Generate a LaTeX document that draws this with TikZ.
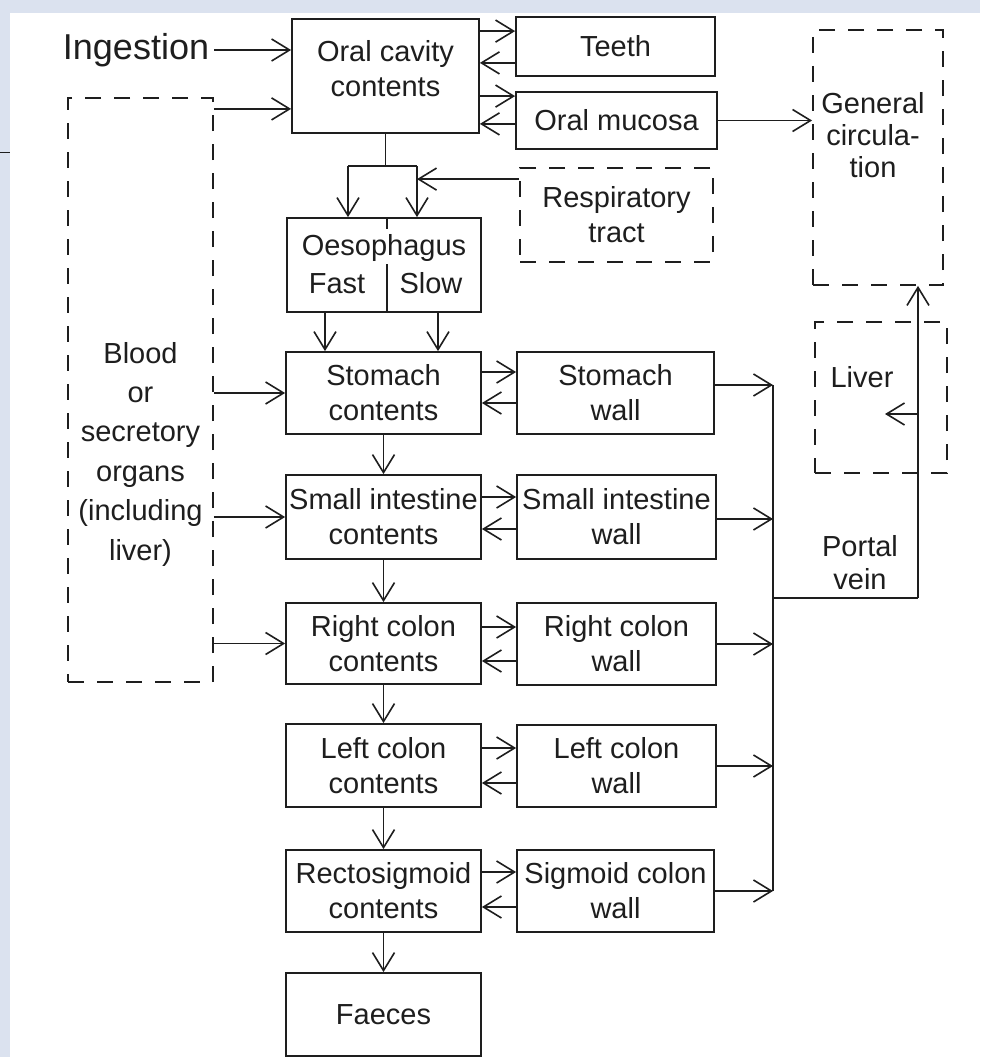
\documentclass[tikz,border=0pt]{standalone}
\usepackage{fontspec}
\setmainfont{Liberation Sans}
\usetikzlibrary{arrows.meta}
\definecolor{bgblue}{RGB}{219,226,239}
\definecolor{ink}{RGB}{30,30,30}
\begin{document}
\begin{tikzpicture}[x=1pt,y=-1pt,
  mainfont/.style={font=\fontsize{29}{35}\selectfont},
  box/.style={draw=ink, line width=1.8pt, inner sep=0pt, align=center, text=ink, mainfont},
  dbox/.style={draw=ink, line width=1.8pt, dash pattern=on 16pt off 13pt, inner sep=0pt},
  txt/.style={inner sep=0pt, align=center, text=ink, mainfont},
  ln/.style={draw=ink, line width=1.6pt},
  arr/.style={draw=ink, line width=1.6pt, -{Straight Barb[length=18pt,width=22pt,line width=1.6pt]}}
]
\useasboundingbox (0,0) rectangle (980,1057);
\fill[bgblue] (0,0) rectangle (980,1057);
\fill[white] (10,13) rectangle (980,1057);
\draw[ink, line width=1pt] (0,152) -- (10,152);

% ---------- nodes ----------
\node[txt, font=\fontsize{36}{40}\selectfont] (ing) at (136,50) {Ingestion};
\node[box, minimum width=187pt, minimum height=114pt] (oral) at (385.5,76) {};
\node[txt] (oraltxt) at (385.5,69) {Oral cavity\\contents};
\node[box, minimum width=199pt, minimum height=59pt] (teeth) at (615.5,46.5) {Teeth};
\node[box, minimum width=201pt, minimum height=57pt] (muc) at (616.5,120.5) {Oral mucosa};

\node[dbox, minimum width=130pt, minimum height=255pt] (gen) at (878,157.5) {};
\node[txt, font=\fontsize{29}{32}\selectfont] (gentxt) at (873,135.5) {General\\circula-\\tion};

\node[dbox, minimum width=193pt, minimum height=94pt] (resp) at (616.5,215) {};
\node[txt] (resptxt) at (616.5,215) {Respiratory\\tract};

\node[box, minimum width=194pt, minimum height=94pt] (oes) at (384,265) {};
\node[txt, anchor=base] (oestxt) at (384,255) {Oesophagus};
\node[txt, anchor=base] (fast) at (337,293) {Fast};
\node[txt, anchor=base] (slow) at (431,293) {Slow};
\coordinate (divx) at (387,0);
\draw[ln] (oes.north -| divx) -- ++(0,12);
\draw[ln] (oes.south -| divx) -- ++(0,-49);

\node[dbox, minimum width=145pt, minimum height=584pt] (blood) at (140.5,390) {};
\node[txt, font=\fontsize{29}{39.4}\selectfont] (bloodtxt) at (140.5,454) {Blood\\or\\secretory\\organs\\(including\\liver)};

\node[dbox, minimum width=132pt, minimum height=151pt] (liver) at (881,397.5) {};
\node[txt, anchor=base] (livertxt) at (862,387) {Liver};
\node[txt, font=\fontsize{29}{33}\selectfont] (portal) at (860,563) {Portal\\vein};

\node[box, minimum width=195pt, minimum height=82pt] (stc) at (383.5,393) {Stomach\\contents};
\node[box, minimum width=195pt, minimum height=84pt] (sic) at (383.5,517) {Small intestine\\contents};
\node[box, minimum width=195pt, minimum height=81pt] (rcc) at (383.5,643.5) {Right colon\\contents};
\node[box, minimum width=195pt, minimum height=83pt] (lcc) at (383.5,765.5) {Left colon\\contents};
\node[box, minimum width=195pt, minimum height=82pt] (rsc) at (383.5,891) {Rectosigmoid\\contents};
\node[box, minimum width=195pt, minimum height=83pt] (fae) at (383.5,1014.5) {Faeces};

\node[box, minimum width=197pt, minimum height=82pt] (stw) at (615.5,393) {Stomach\\wall};
\node[box, minimum width=199pt, minimum height=84pt] (siw) at (616.5,517) {Small intestine\\wall};
\node[box, minimum width=199pt, minimum height=82pt] (rcw) at (616.5,644) {Right colon\\wall};
\node[box, minimum width=199pt, minimum height=82pt] (lcw) at (616.5,766) {Left colon\\wall};
\node[box, minimum width=197pt, minimum height=82pt] (sgw) at (615.5,891) {Sigmoid colon\\wall};

% ---------- connectors ----------
\draw[arr] ([xshift=5pt]ing.east) -- (ing.east -| oral.west);
\coordinate (o1) at ([yshift=25pt]oral.south west);
\draw[arr] (blood.east |- o1) -- (o1);

\coordinate (t1) at ([yshift=-15pt]teeth.north west);
\coordinate (t2) at ([yshift=14pt]teeth.south west);
\draw[arr] (t1 -| oral.east) -- (t1);
\draw[arr] (t2) -- (t2 -| oral.east);
\coordinate (m1) at ([yshift=-5pt]muc.north west);
\coordinate (m2) at ([yshift=26pt]muc.south west);
\draw[arr] (m1 -| oral.east) -- (m1);
\draw[arr] (m2) -- (m2 -| oral.east);
\draw[arr] (muc.east) -- (muc.east -| gen.west);

\coordinate (spL) at (348,166);
\coordinate (spR) at (417,166);
\draw[ln] (oral.south) -- (oral.south |- spL);
\draw[ln] (spL) -- (spR);
\draw[arr] (spL) -- (spL |- oes.north);
\draw[arr] (spR) -- (spR |- oes.north);
\coordinate (r1) at ([yshift=-12pt]resp.north west);
\draw[arr] (r1) -- (r1 -| spR);

\coordinate (fastx) at (325,0);
\coordinate (slowx) at (438,0);
\draw[arr] (oes.south -| fastx) -- (stc.north -| fastx);
\draw[arr] (oes.south -| slowx) -- (stc.north -| slowx);

\draw[arr] (stc.west -| blood.east) -- (stc.west);
\draw[arr] (sic.west -| blood.east) -- (sic.west);
\draw[arr] (rcc.west -| blood.east) -- (rcc.west);

\draw[arr] (stc.south) -- (sic.north);
\draw[arr] (sic.south) -- (rcc.north);
\draw[arr] (rcc.south) -- (lcc.north);
\draw[arr] (lcc.south) -- (rsc.north);
\draw[arr] (rsc.south) -- (fae.north);

% contents <-> wall
\coordinate (a1) at ([yshift=21pt]stc.east);
\coordinate (a2) at ([yshift=-10pt]stc.east);
\draw[arr] (a1) -- (a1 -| stw.west);
\draw[arr] (a2 -| stw.west) -- (a2);
\coordinate (b1) at ([yshift=20pt]sic.east);
\coordinate (b2) at ([yshift=-12pt]sic.east);
\draw[arr] (b1) -- (b1 -| siw.west);
\draw[arr] (b2 -| siw.west) -- (b2);
\coordinate (c1) at ([yshift=16.5pt]rcc.east);
\coordinate (c2) at ([yshift=-17.5pt]rcc.east);
\draw[arr] (c1) -- (c1 -| rcw.west);
\draw[arr] (c2 -| rcw.west) -- (c2);
\coordinate (d1) at ([yshift=17.5pt]lcc.east);
\coordinate (d2) at ([yshift=-17.5pt]lcc.east);
\draw[arr] (d1) -- (d1 -| lcw.west);
\draw[arr] (d2 -| lcw.west) -- (d2);
\coordinate (e1) at ([yshift=19pt]rsc.east);
\coordinate (e2) at ([yshift=-16pt]rsc.east);
\draw[arr] (e1) -- (e1 -| sgw.west);
\draw[arr] (e2 -| sgw.west) -- (e2);

% walls -> portal collector
\coordinate (pvtop) at (773,385);
\coordinate (pvbot) at (773,891);
\draw[ln] (pvtop) -- (pvbot);
\coordinate (w1) at ([yshift=8pt]stw.east);
\coordinate (w2) at ([yshift=-2pt]siw.east);
\draw[arr] (w1) -- (w1 -| pvtop);
\draw[arr] (w2) -- (w2 -| pvtop);
\draw[arr] (rcw.east) -- (rcw.east -| pvtop);
\draw[arr] (lcw.east) -- (lcw.east -| pvtop);
\draw[arr] (sgw.east) -- (sgw.east -| pvtop);

\coordinate (pvj) at (773,598);
\coordinate (pvr) at (918,598);
\draw[ln] (pvj) -- (pvr);
\draw[arr] (pvr) -- (pvr |- gen.south);
\coordinate (lv1) at (918,414);
\coordinate (lvtip) at (885,414);
\draw[arr] (lv1) -- (lvtip);
\end{tikzpicture}
\end{document}
